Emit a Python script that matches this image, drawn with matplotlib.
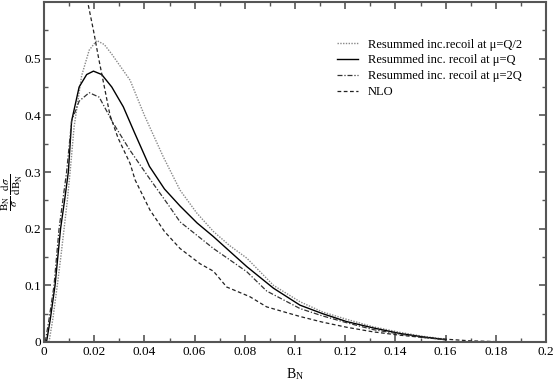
import numpy as np
import matplotlib
matplotlib.use("Agg")
import matplotlib.pyplot as plt

plt.rcParams['font.family'] = ['Liberation Serif', 'DejaVu Serif']
plt.rcParams['mathtext.fontset'] = 'stix'

# Resummed inc. recoil at mu=Q/2 (dotted)
x_half = [0.002, 0.0035, 0.0053, 0.0067, 0.008, 0.0093, 0.0104, 0.012, 0.015, 0.018, 0.021, 0.024,
          0.027, 0.0343, 0.040, 0.0475, 0.0542, 0.0608, 0.0675, 0.074, 0.0808, 0.0914, 0.102,
          0.111, 0.1206, 0.131, 0.1418, 0.151, 0.160]
y_half = [0.0, 0.04, 0.1, 0.15, 0.2, 0.25, 0.3, 0.38, 0.47, 0.515, 0.532, 0.525,
          0.508, 0.462, 0.40, 0.327, 0.268, 0.228, 0.195, 0.17, 0.148, 0.1, 0.071,
          0.053, 0.04, 0.027, 0.017, 0.01, 0.005]

# Resummed inc. recoil at mu=Q (solid)
x_q = [0.001, 0.0025, 0.0044, 0.0055, 0.0066, 0.0082, 0.0097, 0.011, 0.014, 0.017, 0.0197, 0.023,
       0.027, 0.0316, 0.036, 0.042, 0.048, 0.0542, 0.061, 0.0675, 0.074, 0.0808, 0.0914,
       0.102, 0.111, 0.1206, 0.131, 0.1418, 0.151, 0.160]
y_q = [0.0, 0.04, 0.1, 0.15, 0.2, 0.25, 0.3, 0.39, 0.45, 0.472, 0.478, 0.472,
       0.45, 0.415, 0.37, 0.31, 0.27, 0.24, 0.21, 0.186, 0.16, 0.133, 0.095,
       0.065, 0.05, 0.036, 0.025, 0.015, 0.009, 0.004]

# Resummed inc. recoil at mu=2Q (dash-dot)
x_2q = [0.0005, 0.002, 0.004, 0.005, 0.006, 0.0075, 0.009, 0.011, 0.014, 0.018, 0.022,
        0.0276, 0.034, 0.041, 0.050, 0.0542, 0.061, 0.0675, 0.074, 0.0808, 0.0887,
        0.102, 0.111, 0.1206, 0.131, 0.1418, 0.151, 0.160]
y_2q = [0.0, 0.04, 0.1, 0.15, 0.2, 0.25, 0.3, 0.39, 0.425, 0.44, 0.432,
        0.386, 0.34, 0.295, 0.239, 0.212, 0.188, 0.165, 0.145, 0.124, 0.09,
        0.059, 0.046, 0.034, 0.022, 0.014, 0.008, 0.004]

# NLO (dashed)
x_nlo = [0.0165, 0.0174, 0.0197, 0.0218, 0.0263, 0.0295, 0.0343, 0.0363, 0.0422, 0.048,
         0.0542, 0.0622, 0.0675, 0.0728, 0.082, 0.0887, 0.102, 0.111, 0.1206, 0.131,
         0.1418, 0.151, 0.160, 0.170, 0.180, 0.19]
y_nlo = [0.64, 0.6, 0.55, 0.5, 0.4, 0.36, 0.315, 0.286, 0.233, 0.195,
         0.165, 0.138, 0.125, 0.097, 0.08, 0.062, 0.045, 0.035, 0.026, 0.018,
         0.012, 0.008, 0.005, 0.002, 0.0007, 0.0]

fig = plt.figure(figsize=(5.56, 3.82), dpi=100)
ax = fig.add_axes([44 / 556, 40 / 382, 502 / 556, 340 / 382])

ax.plot(x_half, y_half, color='#888888', linestyle=(0, (1, 1)), linewidth=1.0,
        label='Resummed inc.recoil at \u03bc=Q/2')
ax.plot(x_q, y_q, color='black', linestyle='-', linewidth=1.0,
        label='Resummed inc. recoil at \u03bc=Q')
ax.plot(x_2q, y_2q, color='#333333', linestyle=(0, (4, 1.5, 1, 1.5)), linewidth=0.9,
        label='Resummed inc. recoil at \u03bc=2Q')
ax.plot(x_nlo, y_nlo, color='#222222', linestyle=(0, (3, 2)), linewidth=0.9,
        label='NLO')

ax.set_xlim(0, 0.2)
ax.set_ylim(0, 0.6)
ax.set_xticks(np.arange(0, 0.201, 0.02))
ax.set_xticklabels(['0', '0.02', '0.04', '0.06', '0.08', '0.1', '0.12', '0.14', '0.16', '0.18', '0.2'])
ax.set_xticks(np.arange(0, 0.201, 0.01), minor=True)
ax.set_yticks([0, 0.1, 0.2, 0.3, 0.4, 0.5, 0.6])
ax.set_yticklabels(['0', '0.1', '0.2', '0.3', '0.4', '0.5', ''])
ax.set_yticks(np.arange(0, 0.601, 0.05), minor=True)
ax.tick_params(which='both', direction='in', top=True, right=True, labelsize=9.5,
               color='#555555')
ax.tick_params(which='major', length=5, width=1.2, pad=3)
ax.tick_params(axis='y', which='major', pad=2)
ax.tick_params(which='minor', length=3, width=1.0)
for s in ax.spines.values():
    s.set_color('#555555')
    s.set_linewidth(1.5)

ax.set_xlabel('B$_\\mathregular{N}$', fontsize=10, labelpad=6)
fig.text(12 / 556, 190 / 382, r'$\dfrac{\mathrm{B_N}}{\sigma}\,\dfrac{\mathrm{d}\sigma}{\mathrm{dB_N}}$',
         fontsize=8, rotation=90, ha='center', va='center')

ax.legend(loc='upper right', bbox_to_anchor=(0.975, 0.925), frameon=False, fontsize=9,
          handlelength=1.7, handletextpad=0.8, labelspacing=0.3)

fig.savefig('out.png', dpi=100)
